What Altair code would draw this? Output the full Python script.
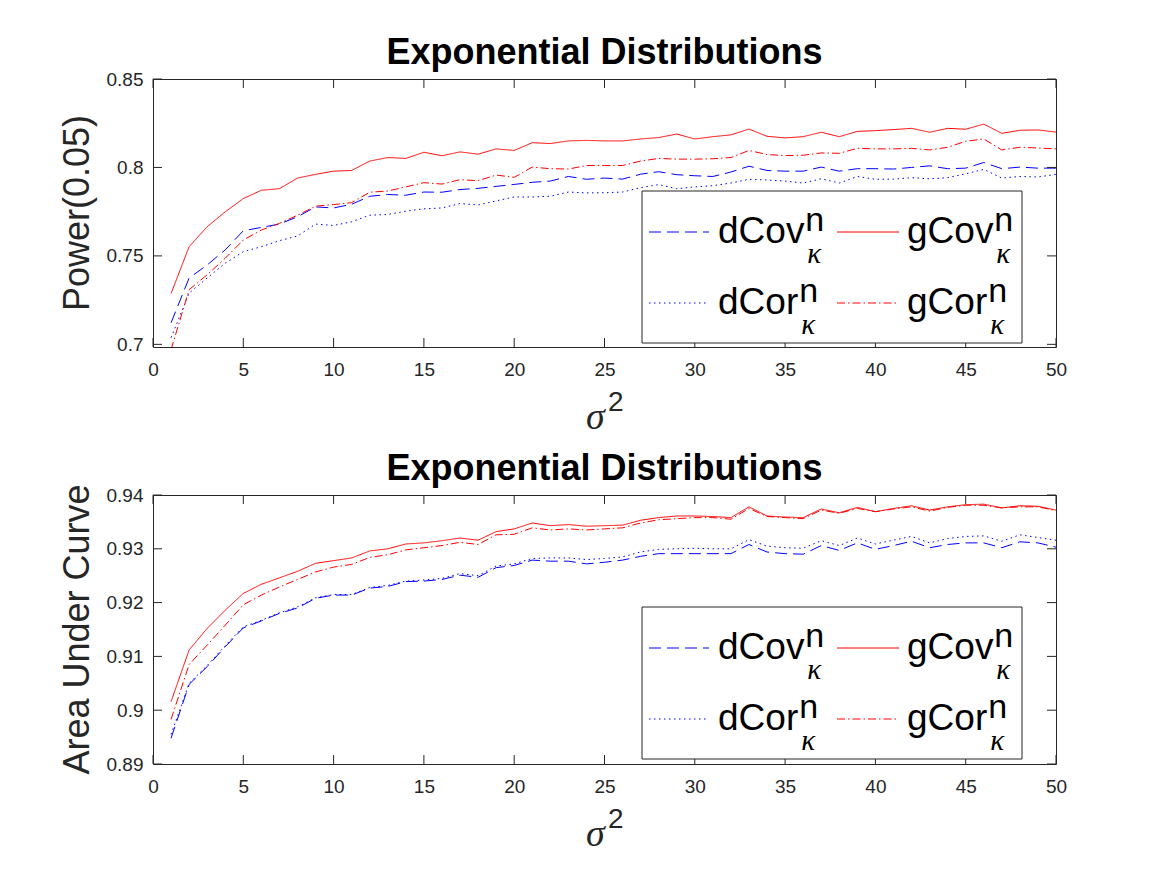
import altair as alt
import pandas as pd

# x values (sigma^2) and axis tick positions
sigma2 = list(range(1, 51))
x_ticks = [0, 5, 10, 15, 20, 25, 30, 35, 40, 45, 50]
power_ticks = [0.7, 0.75, 0.8, 0.85]
auc_ticks = [0.89, 0.9, 0.91, 0.92, 0.93, 0.94]

series = ["dCov", "gCov", "dCor", "gCor"]
colors = ["#0000ff", "#ff0000", "#0000ff", "#ff0000"]
dashes = [[12, 6], [1, 0], [1.5, 3.5], [8, 3, 1.5, 3]]

# Power(0.05)
power_dcov = [0.7122, 0.7375, 0.7449, 0.7534, 0.7642, 0.7661, 0.7680, 0.7721, 0.7777, 0.7771,
              0.7792, 0.7837, 0.7847, 0.7843, 0.7861, 0.7860, 0.7875, 0.7882, 0.7893, 0.7904,
              0.7916, 0.7923, 0.7949, 0.7933, 0.7940, 0.7934, 0.7962, 0.7976, 0.7959, 0.7953,
              0.7949, 0.7974, 0.8007, 0.7983, 0.7979, 0.7979, 0.8002, 0.7979, 0.7993, 0.7993,
              0.7991, 0.8000, 0.8009, 0.7993, 0.7996, 0.8028, 0.7993, 0.8002, 0.7996, 0.7996]
power_gcov = [0.7287, 0.7552, 0.7665, 0.7749, 0.7824, 0.7871, 0.7880, 0.7940, 0.7961, 0.7979,
              0.7983, 0.8036, 0.8056, 0.8051, 0.8086, 0.8066, 0.8088, 0.8075, 0.8105, 0.8096,
              0.8140, 0.8135, 0.8150, 0.8153, 0.8150, 0.8150, 0.8161, 0.8169, 0.8189, 0.8161,
              0.8174, 0.8184, 0.8217, 0.8176, 0.8167, 0.8174, 0.8199, 0.8174, 0.8204, 0.8208,
              0.8214, 0.8221, 0.8199, 0.8221, 0.8216, 0.8245, 0.8193, 0.8210, 0.8212, 0.8200]
power_dcor = [0.7038, 0.7290, 0.7375, 0.7459, 0.7524, 0.7552, 0.7586, 0.7612, 0.7680, 0.7672,
              0.7693, 0.7730, 0.7734, 0.7753, 0.7766, 0.7771, 0.7796, 0.7788, 0.7811, 0.7833,
              0.7833, 0.7837, 0.7861, 0.7856, 0.7857, 0.7861, 0.7886, 0.7903, 0.7880, 0.7890,
              0.7897, 0.7912, 0.7933, 0.7929, 0.7923, 0.7912, 0.7936, 0.7912, 0.7949, 0.7933,
              0.7934, 0.7942, 0.7936, 0.7942, 0.7964, 0.7989, 0.7940, 0.7949, 0.7946, 0.7961]
power_gcor = [0.6970, 0.7309, 0.7393, 0.7487, 0.7590, 0.7646, 0.7684, 0.7730, 0.7781, 0.7790,
              0.7801, 0.7860, 0.7867, 0.7890, 0.7914, 0.7906, 0.7931, 0.7925, 0.7957, 0.7944,
              0.8002, 0.7993, 0.7991, 0.8011, 0.8011, 0.8011, 0.8036, 0.8051, 0.8047, 0.8047,
              0.8049, 0.8056, 0.8096, 0.8073, 0.8067, 0.8069, 0.8082, 0.8080, 0.8108, 0.8105,
              0.8105, 0.8108, 0.8099, 0.8114, 0.8148, 0.8161, 0.8099, 0.8114, 0.8110, 0.8105]

# Area under curve
auc_dcov = [0.8948, 0.9048, 0.9081, 0.9118, 0.9153, 0.9166, 0.9180, 0.9190, 0.9208, 0.9214,
            0.9214, 0.9227, 0.9230, 0.9239, 0.9240, 0.9243, 0.9251, 0.9247, 0.9265, 0.9269,
            0.9279, 0.9277, 0.9277, 0.9272, 0.9275, 0.9279, 0.9286, 0.9291, 0.9291, 0.9291,
            0.9291, 0.9291, 0.9308, 0.9294, 0.9291, 0.9290, 0.9306, 0.9297, 0.9311, 0.9299,
            0.9306, 0.9314, 0.9302, 0.9308, 0.9311, 0.9311, 0.9302, 0.9313, 0.9311, 0.9303]
auc_gcov = [0.9016, 0.9112, 0.9152, 0.9186, 0.9217, 0.9234, 0.9246, 0.9258, 0.9273, 0.9278,
            0.9283, 0.9296, 0.9300, 0.9309, 0.9311, 0.9315, 0.9320, 0.9316, 0.9332, 0.9337,
            0.9348, 0.9343, 0.9345, 0.9342, 0.9343, 0.9344, 0.9353, 0.9358, 0.9361, 0.9361,
            0.9360, 0.9358, 0.9378, 0.9361, 0.9359, 0.9358, 0.9374, 0.9367, 0.9377, 0.9369,
            0.9375, 0.9380, 0.9372, 0.9378, 0.9382, 0.9383, 0.9376, 0.9380, 0.9379, 0.9372]
auc_dcor = [0.8955, 0.9050, 0.9083, 0.9120, 0.9155, 0.9167, 0.9181, 0.9192, 0.9209, 0.9215,
            0.9215, 0.9228, 0.9232, 0.9240, 0.9242, 0.9245, 0.9254, 0.9250, 0.9268, 0.9272,
            0.9282, 0.9283, 0.9283, 0.9280, 0.9282, 0.9285, 0.9294, 0.9299, 0.9300, 0.9301,
            0.9300, 0.9300, 0.9317, 0.9305, 0.9302, 0.9301, 0.9315, 0.9306, 0.9320, 0.9309,
            0.9316, 0.9323, 0.9311, 0.9319, 0.9323, 0.9324, 0.9314, 0.9326, 0.9321, 0.9316]
auc_gcor = [0.8983, 0.9085, 0.9121, 0.9158, 0.9196, 0.9214, 0.9229, 0.9243, 0.9257, 0.9266,
            0.9271, 0.9284, 0.9289, 0.9298, 0.9302, 0.9306, 0.9312, 0.9308, 0.9326, 0.9327,
            0.9339, 0.9335, 0.9337, 0.9335, 0.9337, 0.9339, 0.9348, 0.9354, 0.9356, 0.9358,
            0.9358, 0.9355, 0.9375, 0.9360, 0.9358, 0.9356, 0.9372, 0.9366, 0.9375, 0.9369,
            0.9374, 0.9378, 0.9370, 0.9377, 0.9381, 0.9381, 0.9376, 0.9378, 0.9378, 0.9371]

W = 903
SANS = "Liberation Sans"
SERIF = "Liberation Serif"
GRAY = "#262626"
TICK = 9

one = pd.DataFrame({"k": [0]})

# approximate Arial advance widths, used to place the super/subscripts
ADV = {"d": 0.556, "g": 0.556, "C": 0.722, "o": 0.556, "v": 0.5, "r": 0.333}


def const_text(text, x, y, size, font=SANS, **kw):
    return alt.Chart(one).mark_text(
        text=text, font=font, fontSize=size, baseline="alphabetic", **kw
    ).encode(x=alt.value(x), y=alt.value(y))


def panel(values, ticks, ydomain, ytitle, H, anchor=False):
    df = pd.DataFrame({
        "s": sigma2 * 4,
        "v": [v for vals in values for v in vals],
        "series": [n for n in series for _ in sigma2],
    })
    xs = alt.Scale(domain=[0, 50], nice=False, zero=False)
    ys = alt.Scale(domain=ydomain, nice=False, zero=False)

    lines = alt.Chart(df).mark_line(strokeWidth=1, clip=True).encode(
        x=alt.X("s:Q", scale=xs, title=None, axis=alt.Axis(
            values=x_ticks, format="d", ticks=False, tickSize=0, domain=False,
            grid=False, labelFont=SANS, labelFontSize=19, labelColor=GRAY,
            labelPadding=13, labelFlush=False)),
        y=alt.Y("v:Q", scale=ys, title=None, axis=alt.Axis(
            values=ticks, format="~g", ticks=False, tickSize=0, domain=False,
            grid=False, labelFont=SANS, labelFontSize=19, labelColor=GRAY,
            labelPadding=10, labelFlush=False)),
        color=alt.Color("series:N", scale=alt.Scale(domain=series, range=colors), legend=None),
        strokeDash=alt.StrokeDash("series:N", scale=alt.Scale(domain=series, range=dashes), legend=None),
    )

    xt = pd.DataFrame({"s": x_ticks})
    yt = pd.DataFrame({"v": ticks})
    rule = dict(color=GRAY, strokeWidth=1)
    tick_b = alt.Chart(xt).mark_rule(**rule).encode(
        x=alt.X("s:Q", scale=xs), y=alt.value(H), y2=alt.value(H - TICK))
    tick_t = alt.Chart(xt).mark_rule(**rule).encode(
        x=alt.X("s:Q", scale=xs), y=alt.value(0), y2=alt.value(TICK))
    tick_l = alt.Chart(yt).mark_rule(**rule).encode(
        y=alt.Y("v:Q", scale=ys), x=alt.value(0), x2=alt.value(TICK))
    tick_r = alt.Chart(yt).mark_rule(**rule).encode(
        y=alt.Y("v:Q", scale=ys), x=alt.value(W), x2=alt.value(W - TICK))

    layers = []
    if anchor:
        # fixes the top-left corner of the drawing
        layers.append(alt.Chart(one).mark_rect(color="white").encode(
            x=alt.value(-152), x2=alt.value(-151), y=alt.value(-78), y2=alt.value(-77)))
    layers += [lines, tick_b, tick_t, tick_l, tick_r]

    # titles
    layers.append(const_text("Exponential Distributions", W / 2, -15, 36,
                             fontWeight="bold", color="black", align="center"))
    layers.append(const_text(ytitle, -64, H / 2, 36, color=GRAY, align="center", angle=270))
    layers.append(const_text("σ", 433, H + 82, 38, font=SERIF, fontStyle="italic",
                             color=GRAY, align="left"))
    layers.append(const_text("2", 455, H + 64, 28, color=GRAY, align="left"))

    # legend box
    layers.append(alt.Chart(one).mark_rect(fill="white", stroke=GRAY, strokeWidth=1).encode(
        x=alt.value(489), x2=alt.value(869), y=alt.value(112), y2=alt.value(264)))
    col_line = [(496, 556), (684, 746)]
    col_text = [565, 754]
    row_base = [164, 235]
    for i, name in enumerate(series):
        c, r = i % 2, i // 2
        base = row_base[r]
        x1, x2 = col_line[c]
        layers.append(alt.Chart(one).mark_rule(
            color=colors[i], strokeWidth=1, strokeDash=dashes[i]).encode(
            x=alt.value(x1), x2=alt.value(x2), y=alt.value(base - 11)))
        tx = col_text[c]
        layers.append(const_text(name, tx, base, 37, color="black", align="left"))
        wdt = sum(ADV[ch] for ch in name) * 37 + 1
        layers.append(const_text("n", tx + wdt, base - 12, 34, color="black", align="left"))
        layers.append(const_text("κ", tx + wdt + 2, base + 20, 29, font=SERIF,
                                 fontStyle="italic", color="black", align="left"))

    return alt.layer(*layers).properties(width=W, height=H)


top = panel([power_dcov, power_gcov, power_dcor, power_gcor], power_ticks,
            [0.6985, 0.85], "Power(0.05)", 268, anchor=True)
bottom = panel([auc_dcov, auc_gcov, auc_dcor, auc_gcor], auc_ticks,
               [0.89, 0.94], "Area Under Curve", 269)

chart = alt.vconcat(top, bottom, spacing=148, bounds="flush").properties(
    padding=0, background="white"
).configure_view(stroke=GRAY, strokeWidth=1)

chart.save("out.html", embed_options={"renderer": "svg", "actions": False})
